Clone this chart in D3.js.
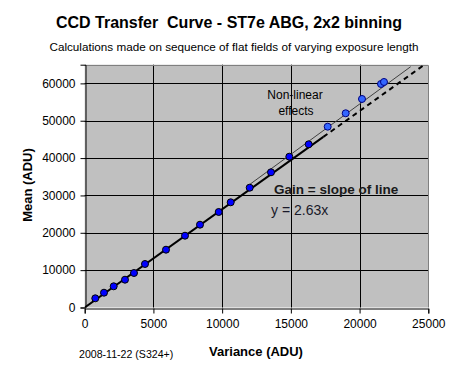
<!DOCTYPE html>
<html><head><meta charset="utf-8">
<script src="https://cdn.jsdelivr.net/npm/d3@7"></script>
<style>body{margin:0;background:#fff;}svg{display:block;font-family:"Liberation Sans",Arial,sans-serif;}</style>
</head><body><svg id="c" width="456" height="374"></svg>
<script>
// data
const linearVariance = [771,1404,2110,2932,3587,4387,5915,7297,8389,9750,10623,12005,13555,14887,16298];
const linearMean     = [2463,3963,5676,7443,9237,11647,15475,19224,22169,25569,28166,32075,36198,40375,43695];
const nonlinVariance = [17680,18990,20176,21558,21776];
const nonlinMean     = [48407,51995,55823,59839,60375];
const xTicks = [0,5000,10000,15000,20000,25000];
const yTicks = [0,10000,20000,30000,40000,50000,60000];
const gainSlope = 2.63;
const fitRange = [0,17363];          // solid fitted line
const extRange = [17363,24715];      // dashed extrapolation
const nonlinLine = [[12000,12000*2.692+620],[23719,64471]];

const svg = d3.select("#c");
const L=84.7,R=428.3,T=64.7,B=307.5;
const x = d3.scaleLinear().domain([0,25000]).range([L,R]);
const y = d3.scaleLinear().domain([0,65000]).range([B,T]);

// plot area
svg.append("rect").attr("x",L).attr("y",T).attr("width",R-L).attr("height",B-T).attr("fill","#c0c0c0");
// grid
svg.append("g").selectAll("line").data(yTicks.filter(d=>d>0)).join("line")
  .attr("x1",L).attr("x2",R).attr("y1",d=>Math.round(y(d))+0.5).attr("y2",d=>Math.round(y(d))+0.5)
  .attr("stroke","#000").attr("stroke-width",1);
svg.append("g").selectAll("line").data(xTicks.filter(d=>d>0&&d<25000)).join("line")
  .attr("y1",T).attr("y2",B).attr("x1",d=>Math.round(x(d))+0.5).attr("x2",d=>Math.round(x(d))+0.5)
  .attr("stroke","#000").attr("stroke-width",1);
// border top/right
svg.append("path").attr("d",`M${L},${Math.round(T)+0.5}H${Math.round(R)+0.5}V${B}`).attr("fill","none").attr("stroke","#808080");

// axes
const xAxis = d3.axisBottom(x).tickValues(xTicks).tickSize(5).tickPadding(6).tickFormat(d3.format("d"));
const gx = svg.append("g").attr("transform",`translate(0,${Math.round(B)+0.5})`).call(xAxis);
const yAxis = d3.axisLeft(y).tickValues(yTicks).tickSize(5).tickPadding(5).tickFormat(d3.format("d"));
const gy = svg.append("g").attr("transform",`translate(${Math.round(L)+0.5},0)`).call(yAxis);
[gx,gy].forEach(g=>{g.select(".domain").attr("stroke","#000");g.selectAll(".tick line").attr("stroke","#000");
  g.selectAll("text").attr("fill","#000").style("font-size","12px").style("font-family","'Liberation Sans',Arial,sans-serif");});

// clip
svg.append("clipPath").attr("id","pc").append("rect").attr("x",L).attr("y",T).attr("width",R-L).attr("height",B-T);
const pg = svg.append("g").attr("clip-path","url(#pc)");
const line = d3.line().x(d=>x(d[0])).y(d=>y(d[1]));
pg.append("path").attr("d",line(nonlinLine)).attr("stroke","#404040").attr("stroke-width",1).attr("fill","none");
pg.append("path").attr("d",line(extRange.map(v=>[v,v*gainSlope]))).attr("stroke","#000").attr("stroke-width",2)
  .attr("stroke-dasharray","5,4").attr("fill","none");
pg.append("path").attr("d",line(fitRange.map(v=>[v,v*gainSlope]))).attr("stroke","#000").attr("stroke-width",2).attr("fill","none");

pg.append("g").selectAll("circle").data(d3.zip(linearVariance,linearMean)).join("circle")
  .attr("cx",d=>x(d[0])).attr("cy",d=>y(d[1])).attr("r",3.5).attr("fill","#0000ff").attr("stroke","#000").attr("stroke-width",1);
pg.append("g").selectAll("circle").data(d3.zip(nonlinVariance,nonlinMean)).join("circle")
  .attr("cx",d=>x(d[0])).attr("cy",d=>y(d[1])).attr("r",3.5).attr("fill","#3366ff").attr("stroke","#000080").attr("stroke-width",1);

// texts
const t=(s,xx,yy,opt={})=>svg.append("text").text(s).attr("x",xx).attr("y",yy)
  .attr("text-anchor",opt.anchor||"start").style("font-size",(opt.size||12)+"px").style("font-weight",opt.bold?"bold":"normal")
  .attr("fill",opt.fill||"#000");
t("CCD Transfer  Curve - ST7e ABG, 2x2 binning",229,28,{anchor:"middle",size:16,bold:true}).style("white-space","pre");
t("Calculations made on sequence of flat fields of varying exposure length",234,50.5,{anchor:"middle",size:11.7});
t("Non-linear",295,99,{anchor:"middle",size:12});
t("effects",296,115,{anchor:"middle",size:12});
t("Gain = slope of line",274,194,{size:13.5,bold:true,fill:"#1a1a1a"});
t("y = 2.63x",271,215,{size:14,fill:"#1a1a2a"});
t("Variance (ADU)",256,356,{anchor:"middle",size:13,bold:true});
t("2008-11-22 (S324+)",79,358,{size:10.6});
svg.append("text").text("Mean (ADU)").attr("transform","translate(32,185) rotate(-90)").attr("text-anchor","middle")
  .style("font-size","13px").style("font-weight","bold").attr("fill","#000");
</script></body></html>
